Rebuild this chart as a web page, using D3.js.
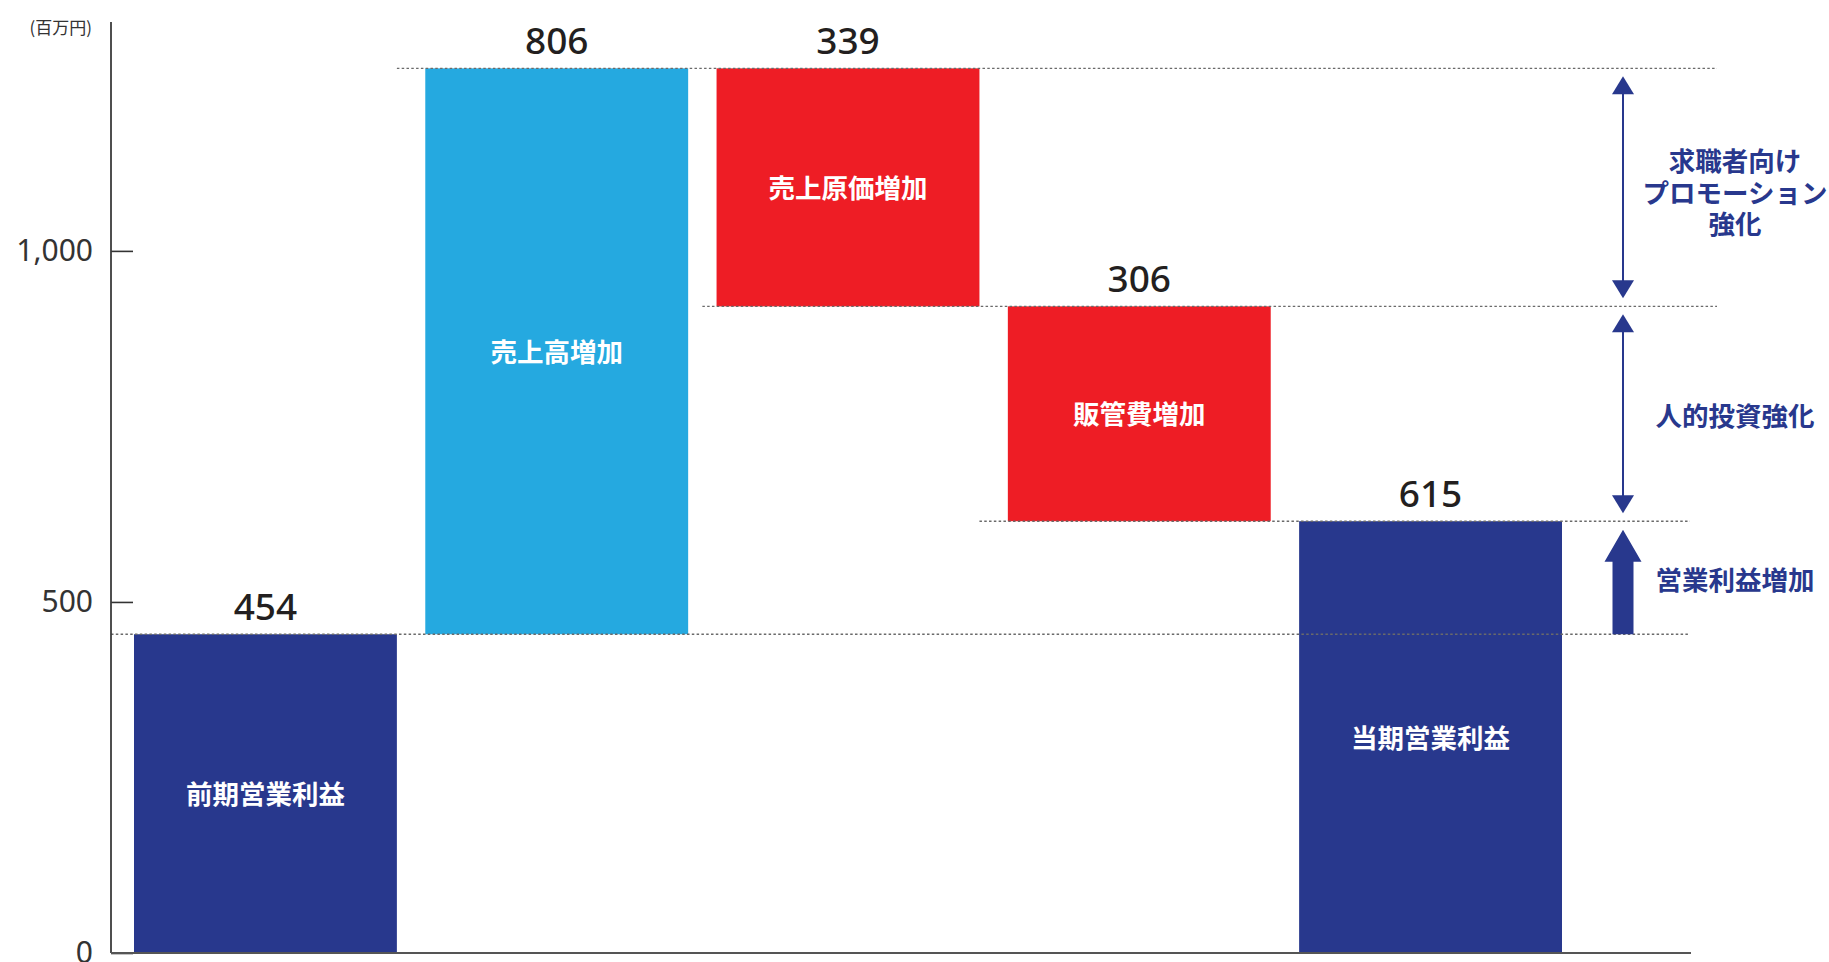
<!DOCTYPE html>
<html lang="ja">
<head>
<meta charset="utf-8">
<title>営業利益増減要因</title>
<script src="https://cdn.jsdelivr.net/npm/d3@7"></script>
<style>
  html, body { margin: 0; padding: 0; background: #ffffff; }
  svg { display: block; }
</style>
</head>
<body>
<script>
// ---- data ----------------------------------------------------------
const categories = ["前期営業利益", "売上高増加", "売上原価増加", "販管費増加", "当期営業利益"];
const values     = [454, 806, -339, -306, 615];
const kinds      = ["total", "increase", "decrease", "decrease", "total"];
const yTicks     = [0, 500, 1000];
const unitLabel  = "(百万円)";

// explanatory notes on the right, each spanning two running-total levels
const noteLines  = [["求職者向け", "プロモーション", "強化"], ["人的投資強化"], ["営業利益増加"]];
const noteFrom   = [1260, 921, 615];
const noteTo     = [921, 615, 454];
const noteArrow  = ["double", "double", "block"];

// ---- layout --------------------------------------------------------
const W = 1829, H = 962;
const axisX = 111, baseY = 953, topY = 22;
const yMax = 1326;
const colors = { total: "#28388d", increase: "#25a9e0", decrease: "#ee1d25" };
const navy = "#28388d";
const numFont = "'Noto Sans', 'Open Sans', sans-serif";
const cjkFont = "'Noto Sans CJK JP', 'Noto Sans', sans-serif";

const svg = d3.select("body").append("svg")
  .attr("width", W).attr("height", H);

const x = d3.scaleBand()
  .domain(categories)
  .range([134, 1562])
  .paddingInner(0.0975)
  .paddingOuter(0);

const y = d3.scaleLinear().domain([0, yMax]).range([baseY, topY]);

// running totals for the waterfall
let running = 0;
const bars = categories.map((c, i) => {
  const v = values[i];
  let lo, hi;
  if (kinds[i] === "total") { lo = 0; hi = v; running = v; }
  else if (v >= 0) { lo = running; hi = running + v; running = hi; }
  else { lo = running + v; hi = running; running = lo; }
  return { cat: c, value: v, kind: kinds[i], lo, hi };
});

// ---- dotted connector lines ---------------------------------------
const noteColX = 1623;
const gapMid = i => (x(categories[i]) + x.bandwidth() + x(categories[i + 1])) / 2;
const connectors = [
  { level: bars[0].hi, x1: axisX,                                   x2: 1690 },
  { level: bars[1].hi, x1: x(categories[0]) + x.bandwidth(),        x2: 1717 },
  { level: bars[2].lo, x1: gapMid(1),                               x2: 1717 },
  { level: bars[3].lo, x1: x(categories[2]) + x.bandwidth(),        x2: 1690 }
];

// ---- bars ----------------------------------------------------------
svg.append("g").selectAll("rect")
  .data(bars).join("rect")
  .attr("x", d => x(d.cat))
  .attr("width", x.bandwidth())
  .attr("y", d => y(d.hi))
  .attr("height", d => y(d.lo) - y(d.hi))
  .attr("fill", d => colors[d.kind]);

svg.append("g").selectAll("line")
  .data(connectors).join("line")
  .attr("x1", d => d.x1).attr("x2", d => d.x2)
  .attr("y1", d => y(d.level)).attr("y2", d => y(d.level))
  .attr("stroke", "#6a6a6a")
  .attr("stroke-width", 1.4)
  .attr("stroke-dasharray", "2.5,2.3");

// labels inside the bars
svg.append("g").selectAll("text")
  .data(bars).join("text")
  .attr("x", d => x(d.cat) + x.bandwidth() / 2)
  .attr("y", d => (y(d.hi) + y(d.lo)) / 2 - 1)
  .attr("text-anchor", "middle")
  .attr("dominant-baseline", "central")
  .attr("fill", "#ffffff")
  .attr("font-family", cjkFont)
  .attr("font-weight", 700)
  .attr("font-size", 26.5)
  .text(d => d.cat);

// value labels above the bars
svg.append("g").selectAll("text")
  .data(bars).join("text")
  .attr("x", d => x(d.cat) + x.bandwidth() / 2)
  .attr("y", d => y(d.hi) - 14)
  .attr("text-anchor", "middle")
  .attr("fill", "#231f20")
  .attr("font-family", numFont)
  .attr("font-weight", 500)
  .attr("font-size", 37)
  .text(d => Math.abs(d.value));

// ---- axes ----------------------------------------------------------
const yAxis = d3.axisLeft(y)
  .tickValues(yTicks)
  .tickFormat(d3.format(","))
  .tickSizeInner(-22)
  .tickSizeOuter(0)
  .tickPadding(18);

const gy = svg.append("g")
  .attr("transform", `translate(${axisX},0)`)
  .call(yAxis);
gy.select(".domain").remove();
gy.selectAll(".tick line").attr("stroke", "#333").attr("stroke-width", 1.6);
gy.selectAll(".tick text")
  .attr("fill", "#333")
  .attr("font-family", numFont)
  .attr("font-size", 30);

svg.append("line")
  .attr("x1", axisX).attr("x2", axisX)
  .attr("y1", y(yMax)).attr("y2", y(0))
  .attr("stroke", "#3c3c3c").attr("stroke-width", 1.8);

svg.append("line")
  .attr("x1", axisX).attr("x2", 1691)
  .attr("y1", y(0)).attr("y2", y(0))
  .attr("stroke", "#555").attr("stroke-width", 2);

svg.append("text")
  .attr("x", 92).attr("y", 26)
  .attr("text-anchor", "end")
  .attr("dominant-baseline", "central")
  .attr("fill", "#333")
  .attr("font-family", cjkFont)
  .attr("font-size", 17)
  .text(unitLabel);

// ---- notes with arrows --------------------------------------------
const notes = svg.append("g");
noteLines.forEach((lines, i) => {
  const yTop = y(noteFrom[i]), yBot = y(noteTo[i]);
  const g = notes.append("g");
  if (noteArrow[i] === "double") {
    const t1 = yTop + 8, t2 = yBot - 8, hw = 11, hh = 18;
    g.append("line")
      .attr("x1", noteColX).attr("x2", noteColX)
      .attr("y1", t1 + hh - 2).attr("y2", t2 - hh + 2)
      .attr("stroke", navy).attr("stroke-width", 2);
    g.append("path")
      .attr("d", `M${noteColX},${t1}L${noteColX + hw},${t1 + hh}L${noteColX - hw},${t1 + hh}Z`)
      .attr("fill", navy);
    g.append("path")
      .attr("d", `M${noteColX},${t2}L${noteColX + hw},${t2 - hh}L${noteColX - hw},${t2 - hh}Z`)
      .attr("fill", navy);
  } else {
    const tip = yTop + 8.5, hw = 18.5, hh = 32, sw = 10.5;
    g.append("path")
      .attr("d", `M${noteColX},${tip}L${noteColX + hw},${tip + hh}L${noteColX + sw},${tip + hh}` +
                 `L${noteColX + sw},${yBot}L${noteColX - sw},${yBot}L${noteColX - sw},${tip + hh}` +
                 `L${noteColX - hw},${tip + hh}Z`)
      .attr("fill", navy);
  }
  const lineH = 31.5;
  const cy = (yTop + yBot) / 2 + (lines.length > 1 ? 4 : 1);
  g.append("text")
    .attr("x", 1735)
    .attr("text-anchor", "middle")
    .attr("fill", navy)
    .attr("font-family", cjkFont)
    .attr("font-weight", 700)
    .attr("font-size", 26.5)
    .selectAll("tspan")
    .data(lines).join("tspan")
    .attr("x", 1735)
    .attr("y", (d, j) => cy + (j - (lines.length - 1) / 2) * lineH)
    .attr("dominant-baseline", "central")
    .text(d => d);
});
</script>
</body>
</html>
